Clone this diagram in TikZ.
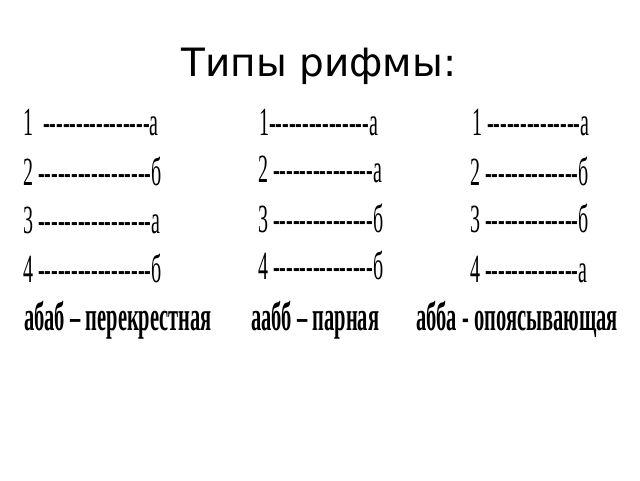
\documentclass[tikz,border=0pt]{standalone}
\usepackage{fontspec}
\setmainfont{DejaVu Sans}
\newfontfamily\tnr[FakeStretch=0.5]{Liberation Serif}
\newfontfamily\tnrb[FakeStretch=0.5,BoldFont={Liberation Serif Bold}]{Liberation Serif Bold}
\ExplSyntaxOn
\cs_new:Npn \hys #1 {\prg_replicate:nn{#1}{-{}}}
\ExplSyntaxOff
\tikzset{
  title/.style={anchor=base, inner sep=0pt, font=\fontsize{39}{39}\selectfont},
  row/.style={anchor=base west, inner sep=0pt, font=\tnr\fontsize{40}{40}\selectfont},
  lab/.style={anchor=base west, inner sep=0pt, font=\tnrb\fontsize{41}{41}\selectfont},
}
\begin{document}
\begin{tikzpicture}[x=1pt,y=1pt]
\useasboundingbox[fill=white] (0,0) rectangle (640,-480);
\node[title] (t) at (319,-76) {Типы рифмы:};
% column 1
\node[row] (a1) at (23,-135) {1\ \ \hys{16}а};
\node[row] (a2) at (23,-185) {2 \hys{17}б};
\node[row] (a3) at (23,-233) {3 \hys{17}а};
\node[row] (a4) at (23,-282) {4 \hys{17}б};
\node[lab] (al) at (24,-330) {абаб – перекрестная};
% column 2
\node[row] (b1) at (259,-135) {1\hys{15}а};
\node[row] (b2) at (258,-182) {2 \hys{15}а};
\node[row] (b3) at (258,-232) {3 \hys{15}б};
\node[row] (b4) at (258,-279) {4 \hys{15}б};
\node[lab] (bl) at (251,-330) {аабб – парная};
% column 3
\node[row] (c1) at (472,-135) {1 \hys{14}а};
\node[row] (c2) at (470,-185) {2 \hys{14}б};
\node[row] (c3) at (470,-232) {3 \hys{14}б};
\node[row] (c4) at (470,-282) {4 \hys{14}а};
\node[lab] (cl) at (416,-330) {абба - опоясывающая};
\end{tikzpicture}
\end{document}
